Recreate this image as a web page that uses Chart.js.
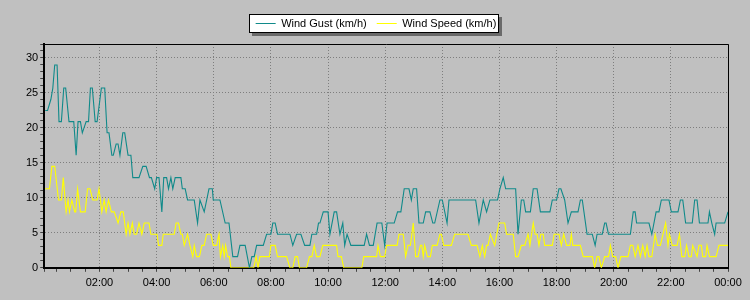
<!DOCTYPE html>
<html><head><meta charset="utf-8">
<script src="https://cdn.jsdelivr.net/npm/chart.js@4.4.1/dist/chart.umd.min.js"></script>
<style>html,body{margin:0;padding:0;background:#c0c0c0;}canvas{display:block;}</style>
</head><body>
<canvas id="c" width="750" height="300"></canvas>
<script>
const seriesNames = ['Wind Gust (km/h)', 'Wind Speed (km/h)'];
const seriesColors = ['#108a8a', '#ffff00'];

// minutes after midnight
const gustMinutes = [
  6,11,18,22,26,31,35,40,45,49,
  56,66,71,75,80,84,92,97,101,105,
  111,115,124,131,136,140,146,149,155,159,
  163,169,173,180,186,190,203,211,218,225,
  229,236,240,245,251,255,261,265,270,274,
  279,291,294,300,305,319,326,331,340,350,
  357,359,373,384,392,400,410,415,426,435,
  440,445,450,464,471,480,484,489,494,520,
  526,534,543,551,562,566,576,580,583,590,
  600,604,613,618,625,631,635,640,648,676,
  681,687,695,703,713,719,724,739,746,753,
  760,770,775,779,786,791,800,805,814,820,
  824,835,840,850,854,910,917,926,933,940,
  956,961,968,973,994,999,1006,1011,1015,1025,
  1031,1039,1046,1066,1071,1080,1085,1089,1097,1104,
  1111,1125,1130,1134,1144,1155,1161,1165,1176,1181,
  1184,1189,1235,1241,1245,1248,1274,1280,1289,1295,
  1300,1316,1321,1335,1340,1345,1351,1365,1370,1375,
  1380,1398,1401,1406,1412,1415,1433,1440
];
const gustKmh = [
  22.5,22.5,24.1,25.7,29.0,29.0,20.9,20.9,25.7,25.7,
  20.9,20.9,16.1,20.9,20.9,19.3,20.9,20.9,25.7,25.7,
  20.9,20.9,25.7,25.7,19.3,19.3,16.1,16.1,17.7,17.7,
  16.1,19.3,19.3,16.1,16.1,12.9,12.9,14.5,14.5,12.9,
  12.9,11.3,12.9,12.9,8.0,12.9,12.9,11.3,12.9,11.3,
  12.9,12.9,11.3,11.3,9.7,9.7,6.4,9.7,8.0,11.3,
  11.3,9.7,9.7,6.4,6.4,1.6,1.6,3.2,3.2,0,
  1.6,1.6,3.2,3.2,4.8,4.8,6.4,6.4,4.8,4.8,
  3.2,4.8,4.8,3.2,3.2,4.8,4.8,6.4,6.4,8.0,
  8.0,4.8,8.0,8.0,4.8,6.4,3.2,4.8,3.2,3.2,
  4.8,3.2,3.2,6.4,6.4,3.2,6.4,6.4,8.0,8.0,
  11.3,11.3,9.7,11.3,11.3,6.4,6.4,8.0,8.0,6.4,
  6.4,9.7,9.7,6.4,9.7,9.7,6.4,9.7,8.0,9.7,
  9.7,11.3,12.9,11.3,11.3,4.8,9.7,9.7,8.0,8.0,
  11.3,11.3,8.0,8.0,9.7,9.7,11.3,11.3,9.7,6.4,
  8.0,8.0,9.7,9.7,4.8,4.8,3.2,4.8,4.8,6.4,
  6.4,4.8,4.8,8.0,8.0,6.4,6.4,4.8,8.0,8.0,
  9.7,9.7,8.0,8.0,9.7,9.7,6.4,6.4,9.7,9.7,
  6.4,6.4,8.0,6.4,4.8,6.4,6.4,8.0
];

const speedMinutes = [
  6,15,20,26,34,40,44,50,54,57,
  62,68,70,74,80,90,95,100,106,115,
  119,125,130,134,139,145,151,159,165,170,
  176,180,184,189,193,198,203,209,214,224,
  228,241,244,251,254,277,281,286,291,294,
  298,305,310,316,319,324,330,335,340,345,
  354,359,366,371,374,379,382,385,389,393,
  396,444,449,453,457,477,480,489,494,513,
  520,526,531,536,540,555,561,566,571,576,
  583,589,618,621,628,633,671,675,702,705,
  710,719,723,745,749,758,763,768,773,779,
  784,789,794,797,800,803,809,815,819,829,
  835,838,843,859,866,894,901,913,919,924,
  929,933,936,941,950,959,971,975,989,994,
  999,1006,1013,1020,1024,1031,1035,1039,1043,1047,
  1052,1055,1071,1075,1085,1090,1095,1101,1108,1111,
  1114,1130,1136,1155,1160,1165,1169,1174,1181,1189,
  1193,1198,1204,1209,1215,1230,1235,1240,1245,1251,
  1256,1261,1266,1270,1274,1280,1287,1292,1298,1309,
  1314,1317,1323,1333,1338,1343,1349,1353,1358,1363,
  1366,1375,1379,1384,1387,1393,1396,1401,1415,1421,1440
];
const speedKmh = [
  11.3,11.3,14.5,14.5,9.7,9.7,12.9,8.0,9.7,8.0,
  9.7,8.0,8.0,11.3,8.0,8.0,11.3,11.3,9.7,9.7,
  11.3,8.0,9.7,8.0,9.7,8.0,8.0,6.4,8.0,8.0,
  4.8,6.4,4.8,6.4,4.8,4.8,6.4,4.8,6.4,6.4,
  4.8,4.8,3.2,3.2,4.8,4.8,6.4,6.4,4.8,4.8,
  3.2,4.8,3.2,1.6,3.2,1.6,1.6,3.2,3.2,4.8,
  4.8,3.2,3.2,4.8,1.6,3.2,1.6,3.2,1.6,1.6,
  0,0,1.6,0,1.6,1.6,3.2,3.2,1.6,1.6,
  0,0,1.6,1.6,0,0,1.6,1.6,3.2,1.6,
  1.6,3.2,3.2,1.6,1.6,0,0,1.6,1.6,3.2,
  1.6,1.6,3.2,3.2,4.8,4.8,1.6,3.2,3.2,6.4,
  1.6,1.6,3.2,3.2,1.6,3.2,1.6,1.6,3.2,3.2,
  4.8,4.8,3.2,3.2,4.8,4.8,3.2,3.2,1.6,3.2,
  1.6,3.2,3.2,4.8,3.2,6.4,6.4,4.8,4.8,1.6,
  1.6,3.2,3.2,4.8,3.2,6.4,4.8,4.8,3.2,4.8,
  4.8,3.2,3.2,4.8,4.8,3.2,4.8,3.2,3.2,4.8,
  3.2,3.2,1.6,1.6,0,1.6,1.6,0,1.6,1.6,
  3.2,1.6,1.6,0,1.6,1.6,3.2,3.2,1.6,3.2,
  1.6,3.2,1.6,3.2,1.6,1.6,4.8,3.2,3.2,6.4,
  3.2,4.8,3.2,3.2,4.8,1.6,1.6,3.2,1.6,1.6,
  3.2,1.6,3.2,3.2,1.6,1.6,3.2,1.6,1.6,3.2,3.2
];

const xTickMinutes = [120,240,360,480,600,720,840,960,1080,1200,1320,1440];
const xTickLabels = ['02:00','04:00','06:00','08:00','10:00','12:00','14:00','16:00','18:00','20:00','22:00','00:00'];
const yTickValues = [0,5,10,15,20,25,30];
const yTickLabels = ['0','5','10','15','20','25','30'];

const toPoints = (xs, ys) => xs.map((x, i) => ({x: x, y: ys[i]}));

const decorPlugin = {
  id: 'decor',
  beforeInit(chart) {
    const lg = chart.legend;
    if (lg) {
      const origFit = lg.fit.bind(lg);
      lg.fit = function () { origFit(); this.height += 5; };
    }
  },
  beforeDraw(chart) {
    const ctx = chart.ctx;
    const hb = chart.legend && chart.legend.legendHitBoxes;
    if (hb && hb.length) {
      const last = hb[hb.length - 1];
      const l = Math.round(hb[0].left - 7);
      const r = Math.round(last.left + last.width + 3);
      const t = Math.round(hb[0].top - 4);
      const b = Math.round(hb[0].top + hb[0].height + 4);
      ctx.save();
      ctx.fillStyle = '#6a6a6a';
      ctx.fillRect(l + 3, t + 3, r - l, b - t);
      ctx.fillStyle = '#ffffff';
      ctx.fillRect(l, t, r - l, b - t);
      ctx.strokeStyle = '#000';
      ctx.lineWidth = 1;
      ctx.strokeRect(l + 0.5, t + 0.5, r - l - 1, b - t - 1);
      ctx.restore();
    }
  },
  beforeDatasetsDraw(chart) {
    const ctx = chart.ctx, a = chart.chartArea;
    ctx.save();
    ctx.strokeStyle = '#000';
    ctx.lineWidth = 1;
    ctx.beginPath();
    ctx.moveTo(Math.round(a.left), Math.round(a.top) + 0.5);
    ctx.lineTo(Math.round(a.right) + 0.5, Math.round(a.top) + 0.5);
    ctx.lineTo(Math.round(a.right) + 0.5, Math.round(a.bottom));
    ctx.stroke();
    ctx.restore();
  }
};

Chart.defaults.font.family = "'Liberation Sans', Arial, sans-serif";
Chart.defaults.font.size = 11;
Chart.defaults.color = '#000';

new Chart(document.getElementById('c'), {
  type: 'line',
  data: {
    datasets: [
      { label: seriesNames[0], data: toPoints(gustMinutes, gustKmh), borderColor: seriesColors[0], backgroundColor: seriesColors[0], borderWidth: 1.1, pointRadius: 0, tension: 0, fill: false },
      { label: seriesNames[1], data: toPoints(speedMinutes, speedKmh), borderColor: seriesColors[1], backgroundColor: seriesColors[1], borderWidth: 1.1, pointRadius: 0, tension: 0, fill: false }
    ]
  },
  options: {
    responsive: false,
    devicePixelRatio: 1,
    animation: false,
    layout: { padding: { top: 8, left: 24, right: 22, bottom: 5 } },
    plugins: {
      tooltip: { enabled: false },
      legend: {
        position: 'top',
        labels: {
          boxWidth: 20,
          boxHeight: 1,
          padding: 10,
          color: '#000',
          font: { size: 11 },
          generateLabels(chart) {
            return chart.data.datasets.map((ds, i) => ({
              text: ds.label, fillStyle: ds.borderColor, strokeStyle: ds.borderColor,
              lineWidth: 0, hidden: false, datasetIndex: i, fontColor: '#000'
            }));
          }
        }
      }
    },
    scales: {
      x: {
        type: 'linear',
        min: 4,
        max: 1440,
        ticks: {
          stepSize: 30,
          autoSkip: false,
          maxRotation: 0,
          padding: 5,
          callback: (v) => { const i = xTickMinutes.indexOf(v); return i >= 0 ? xTickLabels[i] : ''; }
        },
        grid: {
          color: (c) => (c.tick && xTickMinutes.includes(c.tick.value)) ? '#7e7e7e' : 'rgba(0,0,0,0)',
          tickBorderDash: [],
          tickColor: '#444',
          tickLength: 4,
          lineWidth: 1
        },
        border: { color: '#000', width: 2, dash: [1, 2] }
      },
      y: {
        min: 0,
        max: 32,
        ticks: {
          stepSize: 1,
          autoSkip: false,
          padding: 2,
          callback: (v) => { const i = yTickValues.indexOf(v); return i >= 0 ? yTickLabels[i] : ''; }
        },
        grid: {
          color: (c) => (c.tick && yTickValues.includes(c.tick.value) && c.tick.value !== 0) ? '#7e7e7e' : 'rgba(0,0,0,0)',
          tickBorderDash: [],
          tickColor: '#444',
          tickLength: 4,
          lineWidth: 1
        },
        border: { color: '#000', width: 2, dash: [1, 2] }
      }
    }
  },
  plugins: [decorPlugin]
});
</script>
</body></html>
